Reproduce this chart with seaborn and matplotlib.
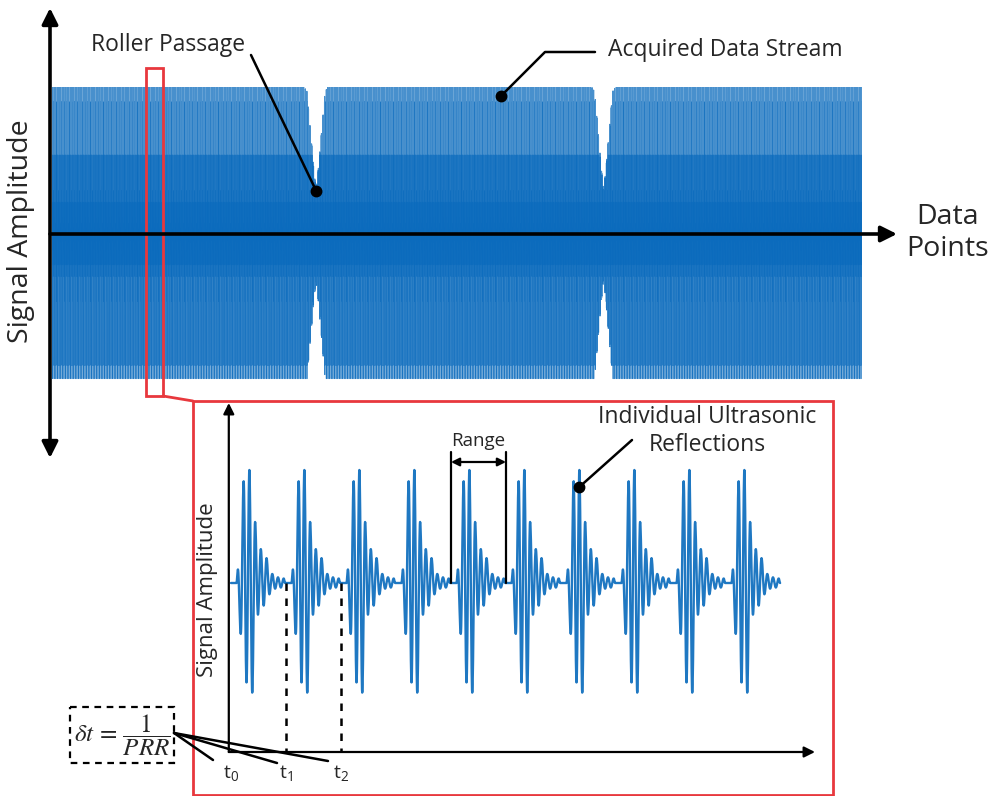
import numpy as np
import pandas as pd
import matplotlib
matplotlib.use("Agg")
import matplotlib.pyplot as plt
import seaborn as sns
from matplotlib.patches import Rectangle

sns.set_theme(style="white")
plt.rcParams['font.family'] = ['Open Sans', 'DejaVu Sans']
plt.rcParams['mathtext.fontset'] = 'stix'

# ---- data -------------------------------------------------------------
# peak amplitude of each successive half-cycle in one reflected pulse
pulse_peaks = [0.12, -0.45, 0.90, -0.88, 1.00, -0.97, 0.54, -0.28, 0.30,
               -0.20, 0.22, -0.10, 0.08, -0.05, 0.05, -0.04, 0.04]
pulse_onset = 0.10   # delay before the first half-cycle (fraction of period)
half_cycle = 0.052   # length of one half-cycle (fraction of period)
# pulse parts: main burst, first ring-down cycles, tail
part_breaks = [7, 11]

# zoomed view: consecutive reflections
n_inset_pulses = 10
time_labels = [r"$\mathregular{t_0}$", r"$\mathregular{t_1}$", r"$\mathregular{t_2}$"]
range_start = 4

# full acquisition: pulses clipped by the roller-passage envelope
n_stream_pulses = 500
roller_centres = [163.0, 340.5]
envelope_offset = [-7.4, -5.6, -3.7, -1.2, 0.0, 1.2, 3.7, 5.6, 7.4]
envelope_level = [1.00, 0.97, 0.73, 0.42, 0.30, 0.42, 0.73, 0.97, 1.00]


def pulse_train(n_pulses, pts=12):
    """Cosine-eased line through the half-cycle peaks of n repeated pulses.

    Returns time, amplitude and a part id (burst / ring-down / tail) per sample.
    """
    k = np.arange(len(pulse_peaks))
    t_knots = np.concatenate([[0.0, pulse_onset],
                              pulse_onset + half_cycle * (k + 0.5),
                              [pulse_onset + half_cycle * len(pulse_peaks), 1.0]])
    a_knots = np.concatenate([[0.0, 0.0], pulse_peaks, [0.0, 0.0]])
    s = np.linspace(0, 1, pts + 1)
    ease = (1 - np.cos(np.pi * s)) / 2
    t_one, a_one, g_one = [], [], []
    for i in range(len(t_knots) - 1):
        t_one.append(t_knots[i] + (t_knots[i + 1] - t_knots[i]) * s)
        a_one.append(a_knots[i] + (a_knots[i + 1] - a_knots[i]) * ease)
        g_one.append(np.full(len(s), np.searchsorted(part_breaks, i, side="right")))
    t_one = np.concatenate(t_one)
    a_one = np.concatenate(a_one)
    g_one = np.concatenate(g_one)
    t = np.concatenate([p + t_one for p in range(n_pulses)])
    a = np.tile(a_one, n_pulses)
    g = np.tile(g_one, n_pulses)
    return t, a, g


BLUE = "#1f78c2"
RED = "#e8383d"
W, H = 998, 796
fig = plt.figure(figsize=(W / 100, H / 100), dpi=100)


def px_axes(x0, y0, x1, y1, **kw):
    return fig.add_axes([x0 / W, 1 - y1 / H, (x1 - x0) / W, (y1 - y0) / H], **kw)


# ---- acquired stream --------------------------------------------------
ax_main = px_axes(52, 87, 862, 383)
t_s, a_s, g_s = pulse_train(n_stream_pulses, pts=5)
env_x = np.concatenate([[0.0]] + [c + np.array(envelope_offset) for c in roller_centres]
                       + [[float(n_stream_pulses)]])
env_y = np.concatenate([[1.0]] + [envelope_level for _ in roller_centres] + [[1.0]])
env = np.interp(t_s, env_x, env_y)
stream = pd.DataFrame({"point": t_s, "amp": np.clip(a_s, -env, env),
                       "trace": np.floor(t_s).astype(int) * 3 + g_s})
sns.lineplot(data=stream, x="point", y="amp", units="trace", ax=ax_main,
             color="#0b6bbd", lw=0.8, alpha=0.75, estimator=None, sort=False)
ax_main.set_xlim(0, n_stream_pulses)
ax_main.set_ylim(-1, 1)
ax_main.axis("off")

# ---- zoomed reflections -----------------------------------------------
x0_px, unit_px, base_px, amp_px = 231, 55, 583, 113
ax_in = px_axes(225, 398, 830, 790)
t_i, a_i, _ = pulse_train(n_inset_pulses, pts=14)
keep = t_i <= n_inset_pulses - 1 + pulse_onset + half_cycle * len(pulse_peaks)
inset = pd.DataFrame({"t": t_i[keep], "amp": a_i[keep]})
sns.lineplot(data=inset, x="t", y="amp", ax=ax_in, color=BLUE, lw=1.7,
             estimator=None, sort=False)
ax_in.set_xlim((225 - x0_px) / unit_px, (830 - x0_px) / unit_px)
ax_in.set_ylim((base_px - 790) / amp_px, (base_px - 398) / amp_px)
ax_in.axis("off")
ax_in.patch.set_alpha(0)
y_axis = (base_px - 752) / amp_px

# axes of the zoomed view
ax_in.annotate("", xy=(-0.04, (base_px - 403) / amp_px), xytext=(-0.04, y_axis),
               arrowprops=dict(arrowstyle="-|>", lw=1.6, color="black",
                               mutation_scale=16, shrinkA=0, shrinkB=0))
ax_in.annotate("", xy=((815 - x0_px) / unit_px, y_axis), xytext=(-0.04, y_axis),
               arrowprops=dict(arrowstyle="-|>", lw=1.6, color="black",
                               mutation_scale=16, shrinkA=0, shrinkB=0))

# pulse start markers
for k, lab in enumerate(time_labels):
    if k > 0:
        ax_in.plot([k, k], [0, y_axis], ls=(0, (3, 3)), color="black", lw=1.8)
    ax_in.text(k, y_axis - 0.1, lab, ha="center", va="top", fontsize=14)

# range marker
r_top = (base_px - 452) / amp_px
r_arrow = (base_px - 462) / amp_px
for xr in (range_start, range_start + 1):
    ax_in.plot([xr, xr], [0, r_top], color="black", lw=1.6)
ax_in.annotate("", xy=(range_start + 1, r_arrow), xytext=(range_start, r_arrow),
               arrowprops=dict(arrowstyle="<|-|>", lw=1.6, color="black",
                               mutation_scale=12, shrinkA=0, shrinkB=0))
ax_in.text(range_start + 0.5, (base_px - 441) / amp_px, "Range",
           ha="center", va="center", fontsize=13.5)

# ---- overlay in pixel space ------------------------------------------
ov = fig.add_axes([0, 0, 1, 1])
ov.set_xlim(0, W)
ov.set_ylim(H, 0)
ov.axis("off")
ov.patch.set_alpha(0)

arrow_kw = dict(color="black", lw=2.6, shrinkA=0, shrinkB=0, mutation_scale=24)
ov.annotate("", xy=(897, 234), xytext=(50, 234),
            arrowprops=dict(arrowstyle="-|>", **arrow_kw))
ov.annotate("", xy=(50, 8), xytext=(50, 458),
            arrowprops=dict(arrowstyle="<|-|>", **arrow_kw))

ov.text(21, 231, "Signal Amplitude", rotation=90, ha="center", va="center", fontsize=20.5)
ov.text(948, 233, "Data\nPoints", ha="center", va="center", fontsize=20.5, linespacing=1.2)

# roller passage callout
dip_x, dip_y = roller_centres[0], envelope_level[4]
ov.text(168, 45, "Roller Passage", ha="center", va="center", fontsize=16.5)
ov.annotate("", xy=(dip_x, dip_y), xycoords=ax_main.transData,
            xytext=(251, 55), textcoords=ov.transData,
            arrowprops=dict(arrowstyle="-", color="black", lw=1.8, shrinkA=0, shrinkB=0))
ax_main.plot(dip_x, dip_y, "o", color="black", ms=7.5)

# acquired stream callout
ov.text(725, 50, "Acquired Data Stream", ha="center", va="center", fontsize=16.5)
ov.plot([501, 545, 595], [96, 52, 52], color="black", lw=1.8)
ov.plot(501, 96, "o", color="black", ms=7.5)

# zoom window and inset frame
ov.add_patch(Rectangle((146, 68), 17, 328, fill=False, ec=RED, lw=2))
ov.add_patch(Rectangle((193, 401), 640, 394, fill=False, ec=RED, lw=2))
ov.plot([163, 193], [396, 401], color=RED, lw=2)

ov.text(208, 590, "Signal Amplitude", rotation=90, ha="center", va="center", fontsize=16)
ov.text(707, 431, "Individual Ultrasonic\nReflections", ha="center", va="center",
        fontsize=16.5, linespacing=1.25)
refl_x = 6 + pulse_onset + half_cycle * 4.5
ov.annotate("", xy=(refl_x, 0.85), xycoords=ax_in.transData,
            xytext=(632, 440), textcoords=ov.transData,
            arrowprops=dict(arrowstyle="-", color="black", lw=1.8, shrinkA=0, shrinkB=0))
ax_in.plot(refl_x, 0.85, "o", color="black", ms=7.5)

# pulse repetition formula
ov.add_patch(Rectangle((70, 707), 104, 56, fill=False, ec="black", lw=1.6,
                       ls=(0, (3, 2.5))))
ov.text(122, 735, r"$\delta t\, =\, \dfrac{1}{PRR}$", ha="center", va="center", fontsize=18)
for xe, ye in [(213, 760), (277, 763), (328, 761)]:
    ov.plot([174, xe], [733, ye], color="black", lw=1.8)

fig.savefig("out.png", dpi=100)
